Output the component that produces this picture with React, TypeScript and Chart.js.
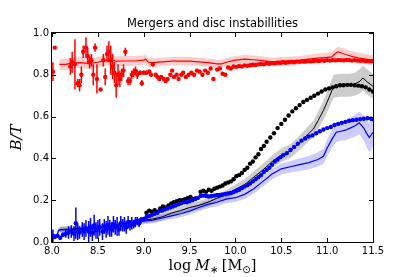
import { useEffect, useRef } from 'react';
import { Chart, registerables } from 'chart.js';

Chart.register(...registerables);

const TITLE = 'Mergers and disc instabillities';
// x label pieces: [text, style] -> 'r' roman, 'i' italic, 's' subscript
const X_LABEL_PARTS: [string, string][] = [['log', 'r'], [' ', 'r'], ['M', 'i'], ['∗', 's'], [' ', 'r'], ['[', 'r'], ['M', 'r'], ['⊙', 's'], [']', 'r']];
const Y_LABEL = 'B/T';
const X_TICKS = [8.0, 8.5, 9.0, 9.5, 10.0, 10.5, 11.0, 11.5];
const Y_TICKS = [0.0, 0.2, 0.4, 0.6, 0.8, 1.0];

// Red points (observations) with error bars
const redDotX = [8.01, 8.03, 8.20, 8.22, 8.25, 8.28, 8.30, 8.32, 8.34, 8.37, 8.39, 8.41, 8.43, 8.45, 8.47, 8.49, 8.53, 8.56, 8.58, 8.60,
  8.62, 8.64, 8.66, 8.68, 8.70, 8.72, 8.74, 8.76, 8.78, 8.80, 8.83, 8.85, 8.87, 8.89, 8.91, 8.93, 8.96, 8.98, 9.00, 9.03,
  9.06, 9.08, 9.10, 9.13, 9.15, 9.17, 9.19, 9.22, 9.24, 9.26, 9.29, 9.31, 9.33, 9.36, 9.38, 9.41, 9.43, 9.46, 9.49, 9.52,
  9.55, 9.58, 9.61, 9.64, 9.67, 9.70, 9.73, 9.76, 9.80, 9.83, 9.86, 9.89, 9.92, 9.95, 9.98, 10.01, 10.04, 10.07, 10.10, 10.13,
  10.16, 10.19, 10.22, 10.25, 10.28, 10.31, 10.34, 10.37, 10.40, 10.43, 10.46, 10.49, 10.52, 10.55, 10.58, 10.61, 10.64, 10.67, 10.70, 10.73,
  10.76, 10.79, 10.82, 10.85, 10.88, 10.91, 10.94, 10.97, 11.00, 11.03, 11.06, 11.09, 11.12, 11.15, 11.18, 11.21, 11.24, 11.27, 11.30, 11.33,
  11.36, 11.39, 11.42, 11.45, 11.48, 11.50];
const redDotY = [0.815, 0.93, 0.84, 0.86, 0.85, 0.76, 0.75, 0.80, 0.91, 0.93, 0.89, 0.86, 0.87, 0.80, 0.93, 0.78, 0.73, 0.87, 0.79, 0.90,
  0.91, 0.87, 0.84, 0.81, 0.75, 0.80, 0.78, 0.80, 0.82, 0.91, 0.77, 0.77, 0.80, 0.81, 0.82, 0.80, 0.81, 0.76, 0.81, 0.81,
  0.815, 0.80, 0.85, 0.80, 0.79, 0.78, 0.79, 0.78, 0.77, 0.78, 0.80, 0.82, 0.79, 0.80, 0.78, 0.80, 0.81, 0.79, 0.80, 0.81,
  0.80, 0.82, 0.815, 0.80, 0.82, 0.81, 0.83, 0.78, 0.825, 0.83, 0.805, 0.80, 0.835, 0.83, 0.84, 0.838, 0.842, 0.84, 0.845, 0.843,
  0.846, 0.848, 0.847, 0.85, 0.852, 0.85, 0.855, 0.853, 0.856, 0.855, 0.858, 0.857, 0.86, 0.858, 0.86, 0.862, 0.86, 0.863, 0.862, 0.864,
  0.863, 0.866, 0.864, 0.866, 0.868, 0.866, 0.869, 0.867, 0.87, 0.868, 0.87, 0.869, 0.871, 0.87, 0.869, 0.871, 0.87, 0.868, 0.87, 0.868,
  0.867, 0.868, 0.866, 0.865, 0.866, 0.865];
const redDotErr = [0.045, 0, 0.04, 0.05, 0.12, 0.02, 0.03, 0.04, 0.03, 0.05, 0.04, 0.03, 0.03, 0.05, 0.02, 0.07, 0.005, 0.03, 0.04, 0.04,
  0.05, 0.07, 0.06, 0.05, 0.06, 0.05, 0.04, 0.03, 0.03, 0.02, 0.02, 0.02, 0.02, 0.02, 0.02, 0.02, 0.01, 0.015, 0.01, 0.01,
  0.01, 0.01, 0.01, 0.01, 0.01, 0.01, 0.005, 0.005, 0.005, 0, 0, 0, 0, 0, 0, 0, 0, 0, 0, 0,
  0, 0, 0, 0, 0, 0, 0, 0, 0, 0, 0, 0, 0, 0, 0, 0, 0, 0, 0, 0,
  0, 0, 0, 0, 0, 0, 0, 0, 0, 0, 0, 0, 0, 0, 0, 0, 0, 0, 0, 0,
  0, 0, 0, 0, 0, 0, 0, 0, 0, 0, 0, 0, 0, 0, 0, 0, 0, 0, 0, 0,
  0, 0, 0, 0, 0, 0];

// Red model line and its band half-width
const redLineX = [8.08, 8.15, 8.2, 8.3, 8.4, 8.5, 8.6, 8.65, 8.7, 8.8, 8.9, 9.0, 9.02, 9.05, 9.1, 9.2, 9.3, 9.4, 9.5, 9.6,
  9.7, 9.8, 9.85, 9.9, 10.0, 10.1, 10.2, 10.3, 10.4, 10.5, 10.6, 10.7, 10.8, 10.9, 11.0, 11.05, 11.1, 11.12, 11.2, 11.28,
  11.35, 11.42, 11.5];
const redLineY = [0.85, 0.85, 0.855, 0.858, 0.855, 0.86, 0.87, 0.872, 0.865, 0.866, 0.866, 0.87, 0.875, 0.86, 0.858, 0.862, 0.865, 0.866, 0.865, 0.862,
  0.858, 0.852, 0.852, 0.86, 0.87, 0.875, 0.872, 0.868, 0.862, 0.865, 0.866, 0.87, 0.875, 0.88, 0.883, 0.886, 0.905, 0.91, 0.897, 0.887,
  0.88, 0.875, 0.87];
const redBand = [0.027, 0.027, 0.027, 0.026, 0.026, 0.025, 0.025, 0.025, 0.024, 0.024, 0.023, 0.022, 0.022, 0.022, 0.021, 0.02, 0.02, 0.02, 0.02, 0.02,
  0.02, 0.02, 0.02, 0.02, 0.02, 0.02, 0.02, 0.02, 0.02, 0.02, 0.02, 0.02, 0.021, 0.022, 0.022, 0.023, 0.024, 0.024, 0.025, 0.025,
  0.025, 0.025, 0.025];

// Black points
const blackDotX = [9.03, 9.06, 9.09, 9.12, 9.15, 9.18, 9.21, 9.24, 9.27, 9.30, 9.33, 9.36, 9.39, 9.42, 9.45, 9.48, 9.51, 9.54, 9.57, 9.62,
  9.65, 9.68, 9.71, 9.74, 9.77, 9.80, 9.83, 9.86, 9.89, 9.92, 9.95, 9.98, 10.01, 10.04, 10.07, 10.10, 10.13, 10.16, 10.19, 10.22,
  10.25, 10.28, 10.31, 10.34, 10.38, 10.42, 10.46, 10.50, 10.54, 10.58, 10.62, 10.66, 10.70, 10.74, 10.78, 10.82, 10.86, 10.90, 10.94, 10.98,
  11.02, 11.06, 11.10, 11.14, 11.18, 11.22, 11.26, 11.30, 11.34, 11.38, 11.42, 11.46, 11.50];
const blackDotY = [0.14, 0.15, 0.145, 0.152, 0.145, 0.16, 0.17, 0.165, 0.175, 0.185, 0.19, 0.195, 0.20, 0.20, 0.205, 0.21, 0.215, 0.205, 0.21, 0.24,
  0.245, 0.24, 0.25, 0.245, 0.255, 0.26, 0.265, 0.27, 0.28, 0.285, 0.29, 0.30, 0.315, 0.32, 0.33, 0.345, 0.355, 0.375, 0.385, 0.405,
  0.42, 0.445, 0.46, 0.48, 0.50, 0.52, 0.545, 0.565, 0.585, 0.605, 0.625, 0.64, 0.655, 0.67, 0.68, 0.69, 0.70, 0.71, 0.72, 0.73,
  0.735, 0.74, 0.745, 0.75, 0.75, 0.752, 0.752, 0.75, 0.748, 0.745, 0.74, 0.73, 0.72];

// Black model line and band
const blackLineX = [8.08, 8.2, 8.3, 8.4, 8.5, 8.6, 8.7, 8.8, 8.9, 9.0, 9.1, 9.2, 9.3, 9.4, 9.5, 9.6, 9.7, 9.8, 9.9, 10.0,
  10.1, 10.2, 10.3, 10.4, 10.5, 10.6, 10.7, 10.8, 10.85, 10.9, 10.96, 11.02, 11.07, 11.15, 11.25, 11.3, 11.36, 11.39, 11.44, 11.5];
const blackLineY = [0.06, 0.062, 0.065, 0.068, 0.07, 0.075, 0.08, 0.088, 0.095, 0.105, 0.11, 0.12, 0.138, 0.15, 0.165, 0.175, 0.19, 0.21, 0.225, 0.252,
  0.275, 0.31, 0.345, 0.385, 0.415, 0.435, 0.475, 0.52, 0.54, 0.58, 0.63, 0.69, 0.745, 0.75, 0.75, 0.755, 0.77, 0.785, 0.765, 0.745];
const blackBand = [0.015, 0.015, 0.015, 0.015, 0.015, 0.015, 0.015, 0.015, 0.015, 0.015, 0.016, 0.017, 0.018, 0.018, 0.019, 0.02, 0.02, 0.021, 0.022, 0.023,
  0.025, 0.027, 0.028, 0.03, 0.032, 0.033, 0.035, 0.038, 0.04, 0.042, 0.045, 0.05, 0.055, 0.055, 0.055, 0.055, 0.058, 0.06, 0.06, 0.06];

// Blue points with error bars
const blueDotX = [8.01, 8.03, 8.06, 8.09, 8.12, 8.15, 8.18, 8.21, 8.24, 8.26, 8.28, 8.30, 8.33, 8.35, 8.37, 8.40, 8.42, 8.44, 8.46, 8.48,
  8.50, 8.52, 8.55, 8.57, 8.59, 8.61, 8.63, 8.65, 8.67, 8.69, 8.71, 8.73, 8.75, 8.77, 8.79, 8.81, 8.83, 8.85, 8.87, 8.89,
  8.91, 8.93, 8.95, 8.97, 9.00, 9.03, 9.06, 9.09, 9.12, 9.15, 9.18, 9.20, 9.23, 9.26, 9.29, 9.32, 9.35, 9.38, 9.41, 9.44,
  9.47, 9.50, 9.53, 9.56, 9.59, 9.62, 9.65, 9.68, 9.71, 9.74, 9.77, 9.80, 9.83, 9.86, 9.89, 9.92, 9.95, 9.98, 10.01, 10.04,
  10.07, 10.10, 10.13, 10.16, 10.19, 10.22, 10.25, 10.28, 10.31, 10.34, 10.37, 10.40, 10.43, 10.46, 10.49, 10.52, 10.56, 10.60, 10.64, 10.68,
  10.72, 10.76, 10.80, 10.84, 10.88, 10.92, 10.96, 11.00, 11.04, 11.08, 11.12, 11.16, 11.20, 11.24, 11.28, 11.32, 11.36, 11.40, 11.44, 11.48,
  11.50];
const blueDotY = [0.03, 0.025, 0.03, 0.02, 0.035, 0.04, 0.045, 0.05, 0.04, 0.09, 0.05, 0.045, 0.06, 0.05, 0.065, 0.05, 0.07, 0.045, 0.08, 0.055,
  0.06, 0.07, 0.05, 0.075, 0.06, 0.08, 0.065, 0.06, 0.085, 0.07, 0.075, 0.06, 0.09, 0.08, 0.085, 0.07, 0.095, 0.08, 0.09, 0.085,
  0.095, 0.10, 0.09, 0.105, 0.11, 0.12, 0.125, 0.13, 0.135, 0.14, 0.15, 0.15, 0.155, 0.16, 0.165, 0.17, 0.175, 0.18, 0.185, 0.19,
  0.19, 0.195, 0.20, 0.205, 0.21, 0.22, 0.222, 0.22, 0.218, 0.22, 0.222, 0.225, 0.225, 0.228, 0.23, 0.232, 0.235, 0.24, 0.245, 0.25,
  0.258, 0.265, 0.272, 0.28, 0.29, 0.30, 0.31, 0.32, 0.335, 0.345, 0.355, 0.37, 0.385, 0.395, 0.405, 0.415, 0.425, 0.44, 0.455, 0.47,
  0.485, 0.495, 0.505, 0.51, 0.52, 0.53, 0.538, 0.545, 0.55, 0.56, 0.565, 0.57, 0.575, 0.58, 0.583, 0.585, 0.588, 0.59, 0.592, 0.59,
  0.588];
const blueDotErr = [0.03, 0.01, 0.005, 0.01, 0.01, 0.02, 0.03, 0.03, 0.035, 0.075, 0.04, 0.03, 0.035, 0.04, 0.04, 0.05, 0.045, 0.04, 0.05, 0.04,
  0.045, 0.04, 0.04, 0.035, 0.04, 0.045, 0.04, 0.035, 0.04, 0.035, 0.045, 0.03, 0.035, 0.03, 0.035, 0.03, 0.03, 0.025, 0.03, 0.02,
  0.025, 0.02, 0.02, 0.015, 0.01, 0.01, 0.01, 0.008, 0.008, 0.005, 0.005, 0, 0, 0, 0, 0, 0, 0, 0, 0,
  0, 0, 0, 0, 0, 0, 0, 0, 0, 0, 0, 0, 0, 0, 0, 0, 0, 0, 0, 0,
  0, 0, 0, 0, 0, 0, 0, 0, 0, 0, 0, 0, 0, 0, 0, 0, 0, 0, 0, 0,
  0, 0, 0, 0, 0, 0, 0, 0, 0, 0, 0, 0, 0, 0, 0, 0, 0, 0, 0, 0,
  0];

// Blue model line and band
const blueLineX = [8.0, 8.05, 8.07, 8.1, 8.2, 8.3, 8.4, 8.5, 8.6, 8.7, 8.8, 8.9, 9.0, 9.1, 9.2, 9.3, 9.4, 9.5, 9.6, 9.7,
  9.8, 9.9, 10.0, 10.1, 10.2, 10.3, 10.4, 10.5, 10.6, 10.7, 10.8, 10.9, 10.96, 11.0, 11.05, 11.1, 11.15, 11.2, 11.25, 11.3,
  11.35, 11.4, 11.43, 11.46, 11.5];
const blueLineY = [0.02, 0.025, 0.055, 0.058, 0.058, 0.06, 0.065, 0.07, 0.072, 0.078, 0.085, 0.092, 0.10, 0.105, 0.115, 0.125, 0.135, 0.148, 0.165, 0.18,
  0.19, 0.205, 0.212, 0.228, 0.255, 0.29, 0.325, 0.35, 0.36, 0.37, 0.38, 0.395, 0.41, 0.45, 0.49, 0.525, 0.53, 0.535, 0.545, 0.555,
  0.57, 0.545, 0.52, 0.50, 0.525];
const blueBand = [0.012, 0.012, 0.012, 0.012, 0.012, 0.012, 0.012, 0.013, 0.013, 0.013, 0.014, 0.014, 0.015, 0.015, 0.016, 0.016, 0.017, 0.018, 0.018, 0.019,
  0.02, 0.02, 0.021, 0.022, 0.023, 0.024, 0.025, 0.027, 0.028, 0.03, 0.032, 0.034, 0.036, 0.04, 0.042, 0.045, 0.046, 0.048, 0.05, 0.052,
  0.055, 0.06, 0.065, 0.07, 0.075];

const toPts = (xs: number[], ys: number[]) => xs.map((x, i) => ({ x, y: ys[i] }));
const toBand = (xs: number[], ys: number[], hs: number[], s: number) => xs.map((x, i) => ({ x, y: ys[i] + s * hs[i] }));
const toErr = (xs: number[], ys: number[], es: number[]) =>
  xs.flatMap((x, i) => (es[i] > 0 ? [{ x, y: ys[i] - es[i] }, { x, y: ys[i] + es[i] }, { x, y: null as any }] : []));

const dots = (data: any[], color: string, order: number) => ({
  data, order, showLine: false, pointRadius: 2.2, pointBorderWidth: 0,
  pointBackgroundColor: color, borderColor: color, backgroundColor: color,
});
const line = (data: any[], color: string, width: number, order: number, fill: any = false, bg = 'transparent') => ({
  data, order, showLine: true, pointRadius: 0, borderWidth: width, borderColor: color,
  backgroundColor: bg, fill, tension: 0, spanGaps: false,
});

const framePlugin = {
  id: 'frameTicks',
  afterDatasetsDraw(chart: any) {
    const { ctx, chartArea, scales } = chart;
    const { left, right, top, bottom } = chartArea;
    ctx.save();
    ctx.strokeStyle = '#000';
    ctx.lineWidth = 1;
    ctx.strokeRect(Math.round(left) - 0.5, Math.round(top) - 0.5, Math.round(right - left) + 1, Math.round(bottom - top) + 1);
    ctx.beginPath();
    X_TICKS.forEach((v) => {
      const p = Math.round(scales.x.getPixelForValue(v)) + 0.5;
      ctx.moveTo(p, bottom); ctx.lineTo(p, bottom - 4);
      ctx.moveTo(p, top); ctx.lineTo(p, top + 4);
    });
    Y_TICKS.forEach((v) => {
      const p = Math.round(scales.y.getPixelForValue(v)) + 0.5;
      ctx.moveTo(left, p); ctx.lineTo(left + 4, p);
      ctx.moveTo(right, p); ctx.lineTo(right - 4, p);
    });
    ctx.stroke();
    ctx.restore();
  },
};

// x-axis label with italic symbol and subscripts (mathtext-like)
const xLabelPlugin = {
  id: 'xLabel',
  afterDraw(chart: any) {
    const { ctx, chartArea } = chart;
    const base = 14.5, sub = 10;
    const fontFor = (st: string) =>
      st === 'i' ? `italic ${base}px "DejaVu Serif"` : st === 's' ? `${sub}px "DejaVu Sans"` : `${base}px "DejaVu Serif"`;
    ctx.save();
    ctx.fillStyle = '#000';
    ctx.textBaseline = 'alphabetic';
    ctx.textAlign = 'left';
    const widths = X_LABEL_PARTS.map(([t, st]) => { ctx.font = fontFor(st); return ctx.measureText(t).width * (t === ' ' ? 0.8 : 1); });
    const total = widths.reduce((a, b) => a + b, 0);
    let x = (chartArea.left + chartArea.right) / 2 - total / 2;
    const baseY = 270;
    X_LABEL_PARTS.forEach(([t, st], i) => {
      ctx.font = fontFor(st);
      if (t !== ' ') ctx.fillText(t, x, st === 's' ? baseY + 3 : baseY);
      x += widths[i];
    });
    ctx.restore();
  },
};

export default function App() {
  const ref = useRef<HTMLCanvasElement>(null);
  useEffect(() => {
    document.body.style.margin = '0';
    const canvas = ref.current!;
    const RED = '#ff0000', BLUE = '#0000ff', BLACK = '#000000';
    const chart = new Chart(canvas, {
      type: 'line',
      data: {
        datasets: [
          dots(toPts(blueDotX, blueDotY), BLUE, 1) as any,            // 0
          line(toErr(blueDotX, blueDotY, blueDotErr), BLUE, 1.5, 2),   // 1
          dots(toPts(blackDotX, blackDotY), BLACK, 3),                  // 2
          dots(toPts(redDotX, redDotY), RED, 4),                        // 3
          line(toErr(redDotX, redDotY, redDotErr), RED, 1.5, 5),       // 4
          line(toPts(blueLineX, blueLineY), BLUE, 1.2, 6),             // 5
          line(toPts(blackLineX, blackLineY), BLACK, 1, 7),            // 6
          line(toPts(redLineX, redLineY), RED, 1.2, 8),                // 7
          line(toBand(blueLineX, blueLineY, blueBand, -1), 'transparent', 0, 9),                                   // 8
          line(toBand(blueLineX, blueLineY, blueBand, 1), 'transparent', 0, 9, 8, 'rgba(0,0,255,0.2)'),            // 9
          line(toBand(blackLineX, blackLineY, blackBand, -1), 'transparent', 0, 10),                               // 10
          line(toBand(blackLineX, blackLineY, blackBand, 1), 'transparent', 0, 10, 10, 'rgba(0,0,0,0.2)'),         // 11
          line(toBand(redLineX, redLineY, redBand, -1), 'transparent', 0, 11),                                     // 12
          line(toBand(redLineX, redLineY, redBand, 1), 'transparent', 0, 11, 12, 'rgba(255,0,0,0.2)'),             // 13
        ],
      },
      options: {
        responsive: false,
        animation: false,
        devicePixelRatio: 1,
        layout: { padding: { left: 10, right: 0, top: 0, bottom: 0 } },
        plugins: {
          legend: { display: false },
          tooltip: { enabled: false },
          title: {
            display: true, text: TITLE, color: '#000',
            font: { family: 'DejaVu Sans', size: 11.5, weight: 'normal' },
            padding: { top: 17, bottom: 2.2 },
          },
        },
        scales: {
          x: {
            type: 'linear', min: 8, max: 11.5,
            afterBuildTicks: (s: any) => { s.ticks = X_TICKS.map((v) => ({ value: v })); },
            afterFit: (s: any) => { s.height = 35; },
            grid: { display: false, drawTicks: false },
            border: { display: false },
            ticks: {
              autoSkip: false, maxRotation: 0, padding: 3, color: '#000',
              font: { family: 'DejaVu Sans', size: 10 },
              callback: (v: any) => Number(v).toFixed(1),
            },
          },
          y: {
            type: 'linear', min: 0, max: 1,
            afterBuildTicks: (s: any) => { s.ticks = Y_TICKS.map((v) => ({ value: v })); },
            afterFit: (s: any) => { s.width = 42; },
            grid: { display: false, drawTicks: false },
            border: { display: false },
            ticks: {
              padding: 3, color: '#000',
              font: { family: 'DejaVu Sans', size: 10 },
              callback: (v: any) => Number(v).toFixed(1),
            },
            title: {
              display: true, text: Y_LABEL, color: '#000',
              font: { family: 'DejaVu Serif', size: 15, style: 'italic' },
              padding: { top: -2, bottom: 0 },
            },
          },
          yRight: {
            type: 'linear', position: 'right', min: 0, max: 1,
            afterFit: (s: any) => { s.width = 42; },
            grid: { display: false, drawTicks: false },
            border: { display: false },
            ticks: { display: false },
          },
        },
      },
      plugins: [framePlugin, xLabelPlugin],
    });
    return () => chart.destroy();
  }, []);
  return (
    <div style={{ width: 415, height: 277 }}>
      <canvas ref={ref} width={415} height={277} style={{ display: 'block' }} />
    </div>
  );
}
